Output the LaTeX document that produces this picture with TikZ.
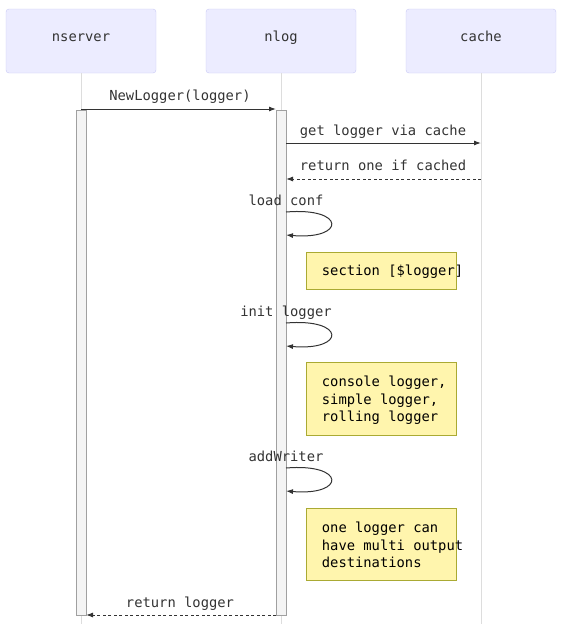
\documentclass[tikz,border=0pt]{standalone}
\usepackage{fontspec}
\setmonofont{DejaVu Sans Mono}
\usetikzlibrary{shapes,arrows.meta}
\definecolor{actorfill}{HTML}{ECECFF}
\definecolor{actorline}{HTML}{C8C8F5}
\definecolor{lifeline}{HTML}{DDDDDD}
\definecolor{actfill}{HTML}{F4F4F4}
\definecolor{actline}{HTML}{A0A0A0}
\definecolor{notefill}{HTML}{FFF5AD}
\definecolor{noteline}{HTML}{AAAA33}
\definecolor{msgline}{HTML}{333333}
\newcommand{\seqfont}{\ttfamily\fontsize{13.8}{17.5}\selectfont}

\begin{document}
\begin{tikzpicture}[x=1pt,y=-1pt,
    actor/.style={rectangle,rounded corners=3pt,draw=actorline,fill=actorfill,
        minimum width=150pt,minimum height=64pt,font=\seqfont,text=black!80},
    life/.style={draw=lifeline,line width=1pt},
    act/.style={rectangle,draw=actline,fill=actfill,line width=1pt,
        minimum width=10pt,minimum height=505pt,inner sep=0pt},
    note/.style={rectangle,draw=noteline,fill=notefill,line width=0.6pt,
        minimum width=150pt,inner sep=0pt},
    notetext/.style={anchor=west,align=left,inner sep=0pt,font=\seqfont,text=black},
    lbl/.style={inner sep=0pt,text height=11.5pt,text depth=2pt,font=\seqfont,text=black!80},
    msg/.style={draw=msgline,line width=1pt,-{Latex[length=7pt,width=5pt]}},
    ret/.style={msg,dash pattern=on 3pt off 2.5pt}]
        \useasboundingbox (0,0) rectangle (565,624);

        % 参与者
        \node[actor] (nserver) at (81,41) {};
        \node[actor] (nlog) at (281,41) {};
        \node[actor] (cache) at (481,41) {};
        \node[lbl] (nserverlbl) at (81,37) {nserver};
        \node[lbl] (nloglbl) at (281,37) {nlog};
        \node[lbl] (cachelbl) at (481,37) {cache};

        % 生命线
        \coordinate (nserverend) at (81,624);
        \coordinate (nlogend) at (281,624);
        \coordinate (cacheend) at (481,624);
        \draw[life] (nserver.south) -- (nserverend);
        \draw[life] (nlog.south) -- (nlogend);
        \draw[life] (cache.south) -- (cacheend);

        % 激活条
        \node[act] (nserveract) at (81,362.5) {};
        \node[act] (nlogact) at (281,362.5) {};

        % 消息
        \coordinate (newfrom) at (81,109);
        \coordinate (newto) at (276,109);
        \draw[msg] (newfrom) -- (newto);
        \node[lbl] (newlbl) at (180,96) {NewLogger(logger)};

        \coordinate (getfrom) at (286,143);
        \coordinate (getto) at (481,143);
        \draw[msg] (getfrom) -- (getto);
        \node[lbl] (getlbl) at (383,131) {get logger via cache};

        \coordinate (hitfrom) at (481,179);
        \coordinate (hitto) at (286,179);
        \draw[ret] (hitfrom) -- (hitto);
        \node[lbl] (hitlbl) at (383,166) {return one if cached};

        % 自调用
        \coordinate (conffrom) at (286,212);
        \coordinate (confto) at (286,235);
        \draw[msg] (conffrom) .. controls +(60,-5) and +(60,5) .. (confto);
        \node[lbl] (conflbl) at (286,201) {load conf};

        \coordinate (initfrom) at (286,323);
        \coordinate (initto) at (286,346);
        \draw[msg] (initfrom) .. controls +(60,-5) and +(60,5) .. (initto);
        \node[lbl] (initlbl) at (286,312) {init logger};

        \coordinate (addfrom) at (286,468);
        \coordinate (addto) at (286,491);
        \draw[msg] (addfrom) .. controls +(60,-5) and +(60,5) .. (addto);
        \node[lbl] (addlbl) at (286,457) {addWriter};

        % 注释
        \node[note,minimum height=37pt] (confnote) at (381,270.5) {};
        \node[notetext] (confnotetxt) at ([xshift=16pt,yshift=-1pt]confnote.west) {section [\$logger]};

        \node[note,minimum height=73pt] (initnote) at (381,398.5) {};
        \node[notetext] (initnotetxt) at ([xshift=16pt,yshift=-2pt]initnote.west) {console logger,\\simple logger,\\rolling logger};

        \node[note,minimum height=72pt] (addnote) at (381,544) {};
        \node[notetext] (addnotetxt) at ([xshift=16pt,yshift=-1pt]addnote.west) {one logger can\\have multi output\\destinations};

        % 返回
        \coordinate (backfrom) at (276,615);
        \coordinate (backto) at (86,615);
        \draw[ret] (backfrom) -- (backto);
        \node[lbl] (backlbl) at (180,603) {return logger};
\end{tikzpicture}
\end{document}
